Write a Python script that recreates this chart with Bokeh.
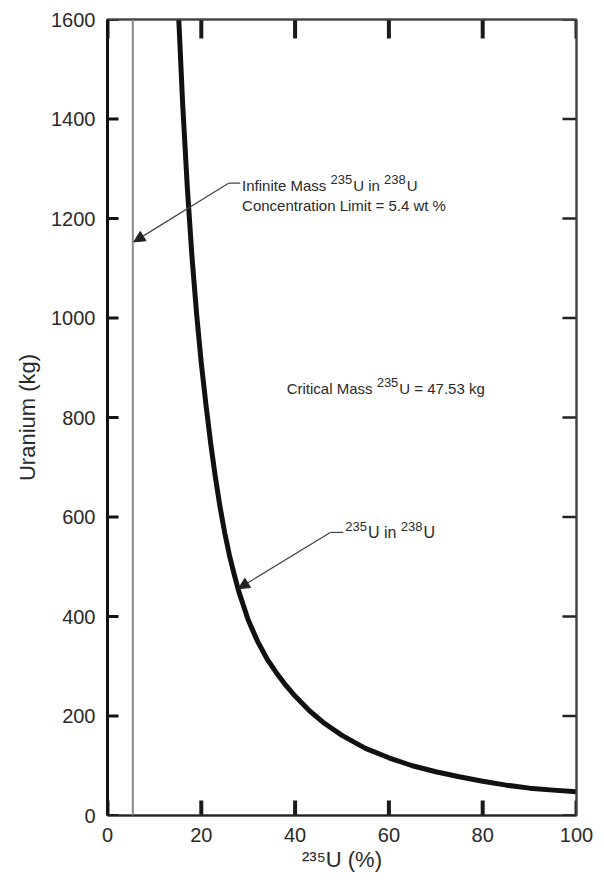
from bokeh.plotting import figure
from bokeh.models import (LinearAxis, FixedTicker, Span, Arrow, NormalHead, Label,
                          CustomJSTickFormatter, Range1d, ColumnDataSource)
from bokeh.embed import file_html
from bokeh.resources import INLINE

# ---- data ----
enrichment_pct = [15.2, 16, 17, 18, 19, 20, 21, 22, 23, 24, 25, 26, 27, 28, 30, 32,
                  34, 36, 38, 40, 43, 46, 50, 55, 60, 65, 70, 75, 80, 85, 90, 95, 100]
uranium_kg = [1600, 1435, 1265, 1125, 1008, 909, 825, 748, 680, 620, 568, 523, 485,
              450, 393, 350, 315, 287, 262, 240, 211, 187, 161, 135, 116, 100, 88,
              77.8, 69, 61, 55, 51, 47.53]
x_ticks = [0, 20, 40, 60, 80, 100]
y_ticks = [0, 200, 400, 600, 800, 1000, 1200, 1400, 1600]
infinite_mass_limit = 5.4     # wt %
critical_mass = 47.53         # kg

X0, X1, Y0, Y1 = 0, 100, 0, 1600
FONT = "Liberation Sans"
TXT = "#2a2a2a"

p = figure(width=602, height=878, x_range=Range1d(X0, X1), y_range=Range1d(Y0, Y1),
           output_backend="svg", toolbar_location=None,
           min_border_left=107, min_border_right=26, min_border_top=19, min_border_bottom=63,
           x_axis_label="²³⁵U (%)", y_axis_label="Uranium (kg)")
p.grid.visible = False
p.outline_line_color = "#555555"
p.outline_line_width = 2
p.background_fill_color = "white"
p.border_fill_color = "white"


def style_axis(ax, width, color):
    ax.major_tick_in = 0
    ax.major_tick_out = 0
    ax.minor_tick_line_color = None
    ax.axis_line_width = width
    ax.axis_line_color = color
    ax.major_label_text_font = FONT
    ax.major_label_text_font_size = "20px"
    ax.major_label_text_color = TXT
    ax.axis_label_text_font = FONT
    ax.axis_label_text_font_size = "22px"
    ax.axis_label_text_font_style = "normal"
    ax.axis_label_text_color = TXT


xb = p.xaxis[0]
yl = p.yaxis[0]
xb.ticker = FixedTicker(ticks=x_ticks)
yl.ticker = FixedTicker(ticks=y_ticks)
style_axis(xb, 2, "#222222")
style_axis(yl, 3, "#111111")
xb.major_label_standoff = 12
xb.axis_label_standoff = 2
yl.major_label_standoff = 12
yl.axis_label_standoff = 8

blank = CustomJSTickFormatter(code="return ''")
top = LinearAxis(ticker=FixedTicker(ticks=list(x_ticks)), formatter=blank)
right = LinearAxis(ticker=FixedTicker(ticks=list(y_ticks)), formatter=blank)
for ax in (top, right):
    style_axis(ax, 2, "#444444")
    ax.major_label_standoff = 0
    ax.major_label_text_font_size = "1px"
p.add_layout(top, "above")
p.add_layout(right, "right")

# inward tick marks on all four sides, placed at the tick values
TB, TT = 30.0, 38.0      # bottom / top tick length (kg units, ~15 / 19 px)
TL, TR = 2.35, 3.0       # left / right tick length (% units, ~11 / 14 px)
n_x, n_y = len(x_ticks), len(y_ticks)
xt = [float(t) for t in x_ticks]
yt = [float(t) for t in y_ticks]
tick_src = ColumnDataSource(dict(
    x0=xt + xt, y0=[Y0 + 0.0] * n_x + [Y1 + 0.0] * n_x,
    x1=xt + xt, y1=[Y0 + TB] * n_x + [Y1 - TT] * n_x))
p.segment(x0="x0", y0="y0", x1="x1", y1="y1", source=tick_src,
          line_color="#1a1a1a", line_width=4)
p.segment(x0=[X0] * n_y, y0=yt, x1=[X0 + TL] * n_y, y1=yt,
          line_color="#111111", line_width=3)
p.segment(x0=[X1] * n_y, y0=yt, x1=[X1 - TR] * n_y, y1=yt,
          line_color="#222222", line_width=2.5)

# infinite-mass concentration limit
p.add_layout(Span(location=infinite_mass_limit, dimension="height",
                  line_color="#8a8a8a", line_width=2))

# critical-mass curve
src = ColumnDataSource(dict(x=enrichment_pct, y=uranium_kg))
p.line("x", "y", source=src, line_color="#111111", line_width=5, line_join="round")

# ---- rich text helper (superscripts) ----
ARIAL = {" ": 278, "%": 889, "(": 333, ")": 333, ".": 278, "=": 584,
         "C": 722, "I": 278, "L": 556, "M": 833, "U": 722,
         "a": 556, "c": 500, "e": 556, "f": 278, "g": 556, "i": 222, "k": 500,
         "l": 222, "m": 833, "n": 556, "o": 556, "r": 333, "s": 500, "t": 278,
         "u": 556, "w": 722}


def text_width(s, size):
    return sum(ARIAL.get(ch, 556) for ch in s) * size / 1000.0


def rich(x, y, pieces, size, sup_size):
    off = 0.0
    for t, sup in pieces:
        fs = sup_size if sup else size
        p.add_layout(Label(x=x, y=y, x_offset=off, y_offset=(6 if sup else 0),
                           text=t, text_font=FONT, text_font_size=f"{fs}px",
                           text_color=TXT, text_align="left", text_baseline="middle"))
        off += text_width(t, fs) + (1 if sup else 0)


def leader(kx, ky, tx, ty, hx):
    p.segment(x0=[kx], y0=[ky], x1=[hx], y1=[ky], line_color="#444444", line_width=1.2)
    p.add_layout(Arrow(x_start=kx, y_start=ky, x_end=tx, y_end=ty,
                       line_color="#444444", line_width=1.2,
                       end=NormalHead(size=11, fill_color="#222222", line_color="#222222")))


# annotation: infinite mass limit
leader(25.8, 1271, 5.6, 1153, 28.3)
rich(28.7, 1267, [("Infinite Mass ", False), ("235", True), ("U in ", False),
                  ("238", True), ("U", False)], 15, 13)
rich(28.7, 1227, [("Concentration Limit = 5.4 wt %", False)], 15, 13)

# annotation: critical mass
rich(38.2, 859, [("Critical Mass ", False), ("235", True),
                 (f"U = {critical_mass} kg", False)], 15, 13)

# annotation: curve label
leader(47.5, 569, 27.9, 456, 50.3)
rich(50.7, 569, [("235", True), ("U in ", False), ("238", True), ("U", False)], 16, 13)

open("out.html", "w").write(file_html(p, INLINE))
